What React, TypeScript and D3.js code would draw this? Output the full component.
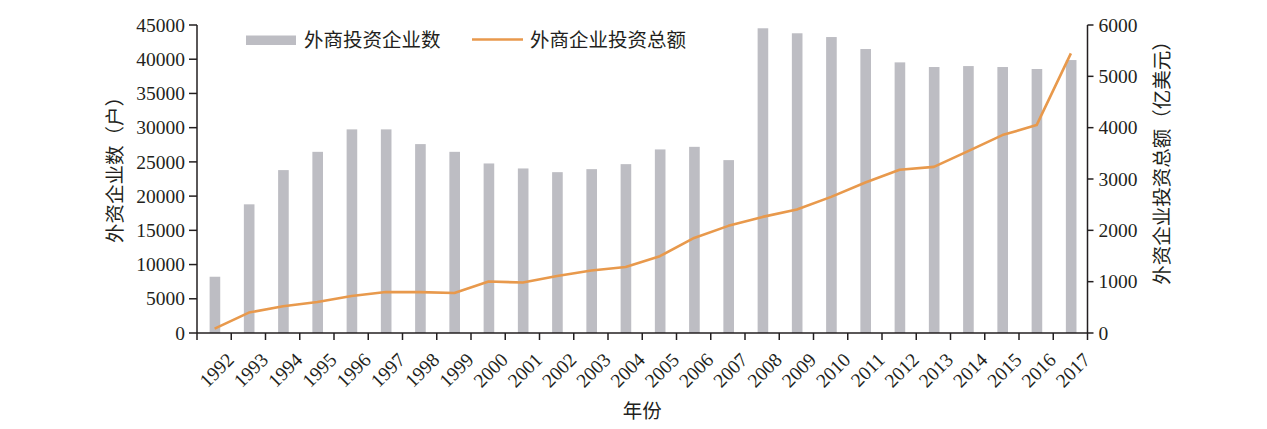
import React from "react";
import * as d3 from "d3";

const years = [
  "1992", "1993", "1994", "1995", "1996", "1997", "1998", "1999", "2000", "2001",
  "2002", "2003", "2004", "2005", "2006", "2007", "2008", "2009", "2010", "2011",
  "2012", "2013", "2014", "2015", "2016", "2017",
];
const enterpriseCount = [
  8220, 18800, 23800, 26470, 29750, 29750, 27600, 26470, 24770, 24040,
  23500, 23940, 24670, 26820, 27200, 25260, 44520, 43790, 43240, 41490,
  39540, 38860, 39000, 38860, 38570, 39880,
];
const investmentTotal = [
  86, 398, 521, 604, 721, 800, 796, 780, 1002, 983,
  1111, 1217, 1287, 1496, 1852, 2087, 2262, 2406, 2652, 2933,
  3179, 3237, 3543, 3855, 4050, 5448,
];
const leftTicks = [0, 5000, 10000, 15000, 20000, 25000, 30000, 35000, 40000, 45000];
const rightTicks = [0, 1000, 2000, 3000, 4000, 5000, 6000];
const barLabel = "外商投资企业数";
const lineLabel = "外商企业投资总额";
const xTitle = "年份";
const yLeftTitle = "外资企业数（户）";
const yRightTitle = "外资企业投资总额（亿美元）";

const W = 1267;
const H = 429;
const left = 197;
const right = 1087.5;
const top = 25;
const bottom = 333;
const FONT = "'Liberation Serif', 'Times New Roman', 'Noto Sans CJK SC', serif";
const TEXT = "#231f20";
const BAR = "#bdbdc3";
const LINE = "#e8994c";
const FS = 19.5;

export default function App() {
  const x = d3.scaleBand<string>().domain(years).range([left, right]).paddingInner(0.69).paddingOuter(0.345);
  const step = (right - left) / years.length;
  const yL = d3.scaleLinear().domain([0, 45000]).range([bottom, top]);
  const yR = d3.scaleLinear().domain([0, 6000]).range([bottom, top]);
  const cx = (y: string) => left + step * (years.indexOf(y) + 0.5);
  const line = d3
    .line<number>()
    .x((_, i) => cx(years[i]) + 0.5)
    .y((d) => yR(d));

  return (
    <svg
      width={W}
      height={H}
      style={{ position: "absolute", left: 0, top: 0, background: "#fff" }}
      fontFamily={FONT}
    >
      {/* bars */}
      {years.map((yr, i) => (
        <rect
          key={yr}
          x={cx(yr) + 0.8 - x.bandwidth() / 2}
          y={yL(enterpriseCount[i])}
          width={x.bandwidth()}
          height={bottom - yL(enterpriseCount[i])}
          fill={BAR}
        />
      ))}
      {/* line */}
      <path d={line(investmentTotal) || ""} fill="none" stroke={LINE} strokeWidth={2.6} strokeLinejoin="round" />

      {/* left axis */}
      <line x1={left} x2={left} y1={top} y2={bottom} stroke={TEXT} strokeWidth={1.5} />
      {leftTicks.map((t) => (
        <g key={t}>
          <line x1={left - 8} x2={left} y1={yL(t)} y2={yL(t)} stroke={TEXT} strokeWidth={1.5} />
          <text x={left - 12} y={yL(t)} dy="0.34em" textAnchor="end" fontSize={FS} fill={TEXT}>
            {t}
          </text>
        </g>
      ))}
      {/* right axis */}
      <line x1={right} x2={right} y1={top} y2={bottom} stroke={TEXT} strokeWidth={1.5} />
      {rightTicks.map((t) => (
        <g key={t}>
          <line x1={right} x2={right + 6} y1={yR(t)} y2={yR(t)} stroke={TEXT} strokeWidth={1.5} />
          <text x={right + 11} y={yR(t)} dy="0.34em" textAnchor="start" fontSize={FS} fill={TEXT}>
            {t}
          </text>
        </g>
      ))}
      {/* bottom axis */}
      <line x1={left} x2={right} y1={bottom} y2={bottom} stroke={TEXT} strokeWidth={1.5} />
      {d3.range(years.length + 1).map((i) => (
        <line
          key={i}
          x1={left + step * i}
          x2={left + step * i}
          y1={bottom}
          y2={bottom + 7}
          stroke={TEXT}
          strokeWidth={1.5}
        />
      ))}
      {years.map((yr) => (
        <text
          key={yr}
          transform={`translate(${cx(yr) + 21},${bottom + 28}) rotate(-45)`}
          textAnchor="end"
          fontSize={FS}
          fill={TEXT}
        >
          {yr}
        </text>
      ))}

      {/* titles */}
      <text x={(left + right) / 2} y={418} textAnchor="middle" fontSize={FS} fill={TEXT}>
        {xTitle}
      </text>
      <text
        transform={`translate(122,165) rotate(-90)`}
        textAnchor="middle"
        fontSize={FS}
        fill={TEXT}
      >
        {yLeftTitle}
      </text>
      <text
        transform={`translate(1169,158) rotate(-90)`}
        textAnchor="middle"
        fontSize={FS}
        fill={TEXT}
      >
        {yRightTitle}
      </text>

      {/* legend */}
      <rect x={246} y={35.5} width={50} height={9.5} fill={BAR} />
      <text x={304} y={40} dy="0.36em" fontSize={FS} fill={TEXT}>
        {barLabel}
      </text>
      <line x1={472} x2={523} y1={39.5} y2={39.5} stroke={LINE} strokeWidth={2.6} />
      <text x={530} y={40} dy="0.36em" fontSize={FS} fill={TEXT}>
        {lineLabel}
      </text>
    </svg>
  );
}
